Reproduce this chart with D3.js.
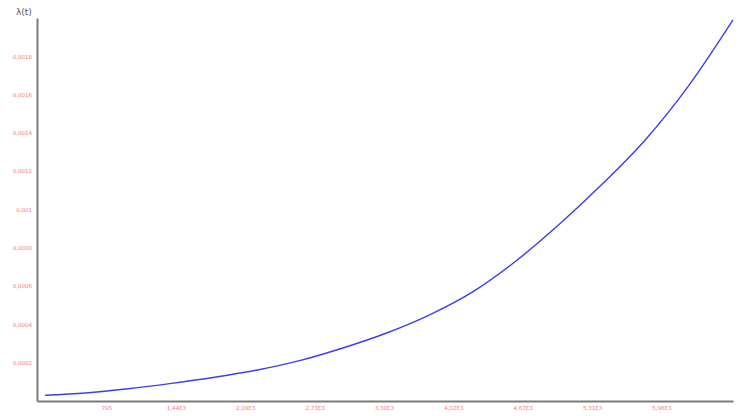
<!DOCTYPE html>
<html>
<head>
<meta charset="utf-8">
<script src="https://cdn.jsdelivr.net/npm/d3@7"></script>
<style>
  body { margin: 0; background: #fff; }
  svg { display: block; }
</style>
</head>
<body>
<svg id="chart" width="744" height="416"></svg>
<script>
// values
const tValues = [225, 600, 1000, 1400, 1800, 2200, 2600, 3000, 3400, 3800, 4200, 4600, 5000, 5400, 5800, 6200, 6620];
const lambdaValues = [0.000030, 0.000042, 0.000064, 0.000092, 0.000124, 0.000162, 0.000212, 0.000278, 0.000355,
                      0.000450, 0.000570, 0.000730, 0.000920, 0.001130, 0.001360, 0.001640, 0.001990];
const xTicks = [795, 1440, 2085, 2730, 3375, 4020, 4665, 5310, 5955];
const xTickLabels = ["795", "1,44E3", "2,09E3", "2,73E3", "3,38E3", "4,02E3", "4,67E3", "5,31E3", "5,96E3"];
const yTicks = [0.0002, 0.0004, 0.0006, 0.0008, 0.001, 0.0012, 0.0014, 0.0016, 0.0018];
const yTickLabels = ["0,0002", "0,0004", "0,0006", "0,0008", "0,001", "0,0012", "0,0014", "0,0016", "0,0018"];

const margin = { top: 18, right: 11, bottom: 15, left: 37 },
      width = 744 - margin.left - margin.right,
      height = 416 - margin.top - margin.bottom;

const svg = d3.select("#chart");
const g = svg.append("g").attr("transform", `translate(${margin.left},${margin.top})`);

const x = d3.scaleLinear().domain([150, 6620]).range([0, width]);
const y = d3.scaleLinear().domain([0, 0.002]).range([height, 0]);

const data = tValues.map((t, i) => ({ t: t, v: lambdaValues[i] }));

// axes, no tick marks
const xAxis = d3.axisBottom(x)
  .tickValues(xTicks)
  .tickSize(0)
  .tickPadding(5)
  .tickFormat((d, i) => xTickLabels[i]);
const yAxis = d3.axisLeft(y)
  .tickValues(yTicks)
  .tickSize(0)
  .tickPadding(5)
  .tickFormat((d, i) => yTickLabels[i]);

const xg = g.append("g").attr("transform", `translate(0,${height})`).call(xAxis);
const yg = g.append("g").call(yAxis);

[xg, yg].forEach(a => {
  a.select(".domain").attr("stroke", "#7a7a7a").attr("stroke-width", 2);
  a.selectAll("text")
   .attr("fill", "#ff7777")
   .style("font-family", "DejaVu Sans, sans-serif")
   .style("font-size", "5.5px");
});

// curve
const line = d3.line()
  .x(d => x(d.t))
  .y(d => y(d.v))
  .curve(d3.curveMonotoneX);

g.append("path")
 .datum(data)
 .attr("fill", "none")
 .attr("stroke", "#3c3cf5")
 .attr("stroke-width", 1.4)
 .attr("d", line);

// axis title
svg.append("text")
   .attr("x", 16)
   .attr("y", 15)
   .attr("fill", "#555")
   .style("font-family", "DejaVu Sans, sans-serif")
   .style("font-size", "9px")
   .text("λ(t)");
</script>
</body>
</html>
